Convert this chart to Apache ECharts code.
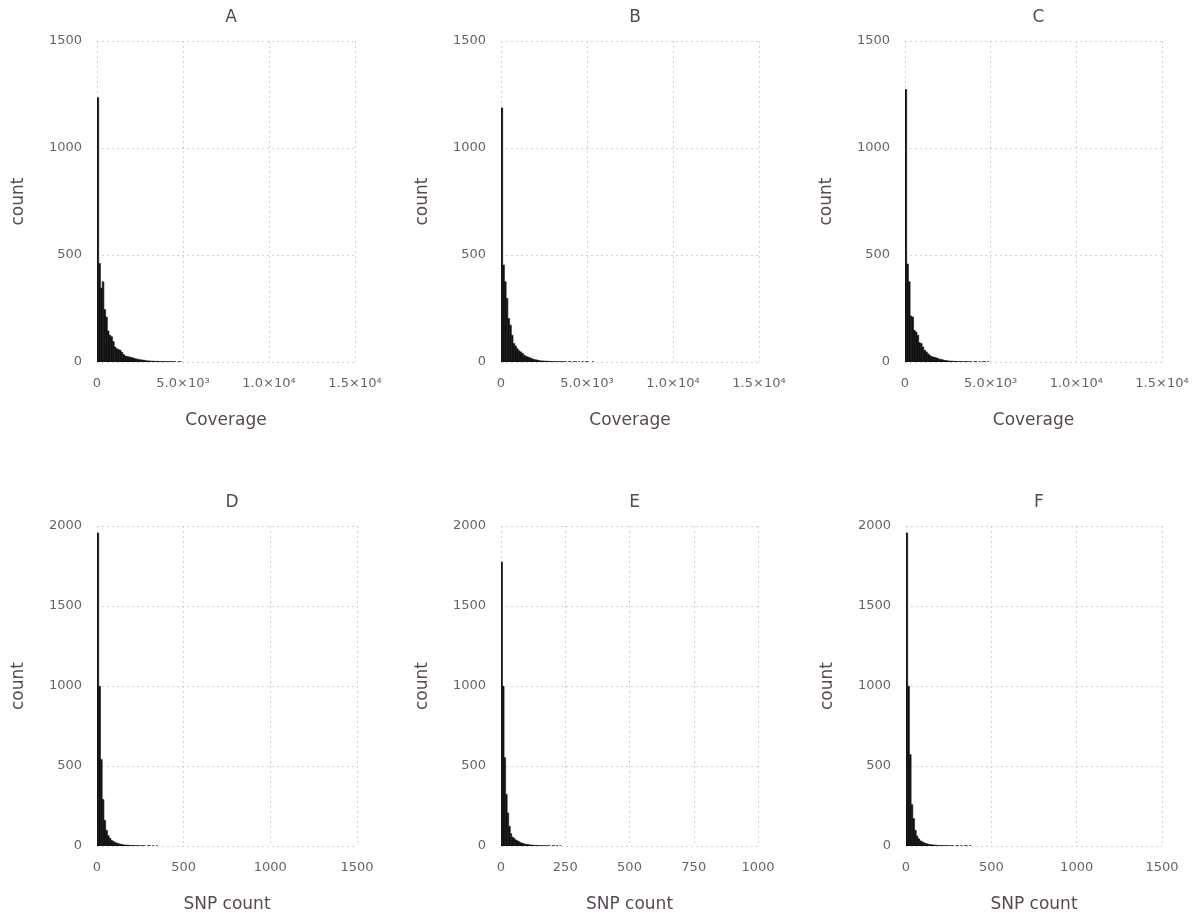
<!DOCTYPE html>
<html>
<head>
<meta charset="utf-8">
<script src="https://cdn.jsdelivr.net/npm/echarts@6/dist/echarts.min.js"></script>
<style>html,body{margin:0;padding:0;background:#fff}#c{width:1199px;height:917px}</style>
</head>
<body>
<div id="c"></div>
<script>
// ---- data ----
const panelTitles = ['A', 'B', 'C', 'D', 'E', 'F'];
const xNames = ['Coverage', 'Coverage', 'Coverage', 'SNP count', 'SNP count', 'SNP count'];
const yName = 'count';

// bin widths per panel
const binWidths = [100, 100, 100, 10, 6, 10];

// histogram counts per bin (starting at 0)
const countsA = [1235, 460, 345, 375, 245, 210, 145, 125, 118, 95, 70, 62, 58, 55, 45, 35, 28, 26, 24, 22,
  20, 17, 15, 13, 11, 10, 9, 8, 6, 5, 5, 4, 4, 3, 3, 3, 2, 2, 2, 2, 1, 1, 2, 1, 1, 1, 0, 1, 1, 0];
const countsB = [1187, 453, 375, 297, 203, 172, 125, 86, 75, 62, 52, 47, 40, 32, 27, 24, 20, 18, 14, 11,
  10, 8, 6, 5, 5, 4, 4, 3, 3, 2, 2, 2, 1, 1, 2, 1, 1, 1, 0, 1, 1, 0, 1, 1, 0, 1, 0, 1, 0, 1, 1, 0, 0, 1];
const countsC = [1273, 458, 375, 215, 210, 148, 140, 125, 90, 86, 70, 55, 47, 38, 31, 26, 23, 21, 19, 15,
  12, 11, 9, 7, 6, 5, 4, 4, 3, 3, 2, 2, 2, 1, 1, 2, 1, 1, 1, 0, 1, 1, 0, 1, 0, 1, 1, 0, 1];
const countsD = [1956, 998, 540, 290, 160, 98, 65, 48, 35, 28, 22, 18, 14, 11, 9, 7, 6, 5, 4, 3,
  3, 2, 2, 2, 1, 1, 1, 1, 0, 1, 1, 0, 1, 0, 1];
const countsE = [1775, 998, 552, 323, 206, 123, 77, 55, 48, 38, 33, 27, 22, 19, 15, 12, 10, 9, 7, 6,
  5, 4, 4, 3, 3, 2, 2, 2, 1, 1, 1, 1, 0, 1, 1, 0, 1, 0, 1];
const countsF = [1956, 998, 571, 258, 171, 98, 62, 45, 32, 26, 20, 16, 13, 10, 8, 7, 6, 5, 4, 3,
  3, 2, 2, 2, 1, 1, 1, 1, 0, 1, 1, 0, 1, 0, 1, 1, 0, 1];
const allCounts = [countsA, countsB, countsC, countsD, countsE, countsF];

// axis ranges and ticks
const xMax = [15000, 15000, 15000, 1500, 1000, 1500];
const xInterval = [5000, 5000, 5000, 500, 250, 500];
const yMax = [1500, 1500, 1500, 2000, 2000, 2000];
const yInterval = [500, 500, 500, 500, 500, 500];
const coverageTickLabels = {0: '0', 5000: '5.0×10³', 10000: '1.0×10⁴', 15000: '1.5×10⁴'};

// ---- layout ----
const gridPos = [
  {left: 97, top: 41, width: 258, height: 321},
  {left: 501, top: 41, width: 258, height: 321},
  {left: 905, top: 41, width: 257, height: 321},
  {left: 97, top: 526, width: 260, height: 320},
  {left: 501, top: 526, width: 257, height: 320},
  {left: 906, top: 526, width: 256, height: 320}
];

const FONT = 'DejaVu Sans';
const tickColor = '#6c606b';
const labelColor = '#564a55';
const gridColor = '#d0d0e0';

const grids = [], xAxes = [], yAxes = [], series = [], titles = [];
for (let p = 0; p < 6; p++) {
  const g = gridPos[p];
  grids.push({left: g.left, top: g.top, width: g.width, height: g.height, containLabel: false});
  titles.push({
    text: panelTitles[p], left: g.left + g.width / 2, top: g.top - 37, textAlign: 'center',
    textStyle: {fontFamily: FONT, fontSize: 17, fontWeight: 'normal', color: labelColor}
  });
  const isCov = p < 3;
  xAxes.push({
    type: 'value', gridIndex: p, min: 0, max: xMax[p], interval: xInterval[p],
    name: xNames[p], nameLocation: 'middle', nameGap: 50,
    nameTextStyle: {fontFamily: FONT, fontSize: 17, color: labelColor},
    axisLine: {show: false}, axisTick: {show: false},
    axisLabel: {
      fontFamily: FONT, fontSize: 13, color: tickColor, margin: 15,
      formatter: isCov ? (v => coverageTickLabels[v] !== undefined ? coverageTickLabels[v] : String(v)) : (v => String(v))
    },
    splitLine: {show: true, lineStyle: {color: gridColor, type: [2, 3], width: 1}}
  });
  yAxes.push({
    type: 'value', gridIndex: p, min: 0, max: yMax[p], interval: yInterval[p],
    name: yName, nameLocation: 'middle', nameGap: 70, nameRotate: 90,
    nameTextStyle: {fontFamily: FONT, fontSize: 17, color: labelColor},
    axisLine: {show: false}, axisTick: {show: false},
    axisLabel: {fontFamily: FONT, fontSize: 13, color: tickColor, margin: 15, formatter: v => String(v)},
    splitLine: {show: true, lineStyle: {color: gridColor, type: [2, 3], width: 1}}
  });
  const w = binWidths[p];
  const data = allCounts[p].map((c, i) => [i * w, (i + 1) * w, c]);
  series.push({
    type: 'custom', xAxisIndex: p, yAxisIndex: p, data: data,
    encode: {x: [0, 1], y: 2}, silent: true, clip: true,
    renderItem: function (params, api) {
      const x0 = api.value(0), x1 = api.value(1), c = api.value(2);
      if (!c) return null;
      const a = api.coord([x0, c]);
      const b = api.coord([x1, 0]);
      return {
        type: 'rect',
        shape: {x: a[0], y: a[1], width: b[0] - a[0], height: b[1] - a[1]},
        style: {fill: '#111111', stroke: '#111111', lineWidth: 0.6}
      };
    }
  });
}

const chart = echarts.init(document.getElementById('c'), null, {renderer: 'canvas'});
chart.setOption({
  animation: false,
  backgroundColor: '#ffffff',
  title: titles,
  grid: grids,
  xAxis: xAxes,
  yAxis: yAxes,
  series: series
});
</script>
</body>
</html>
